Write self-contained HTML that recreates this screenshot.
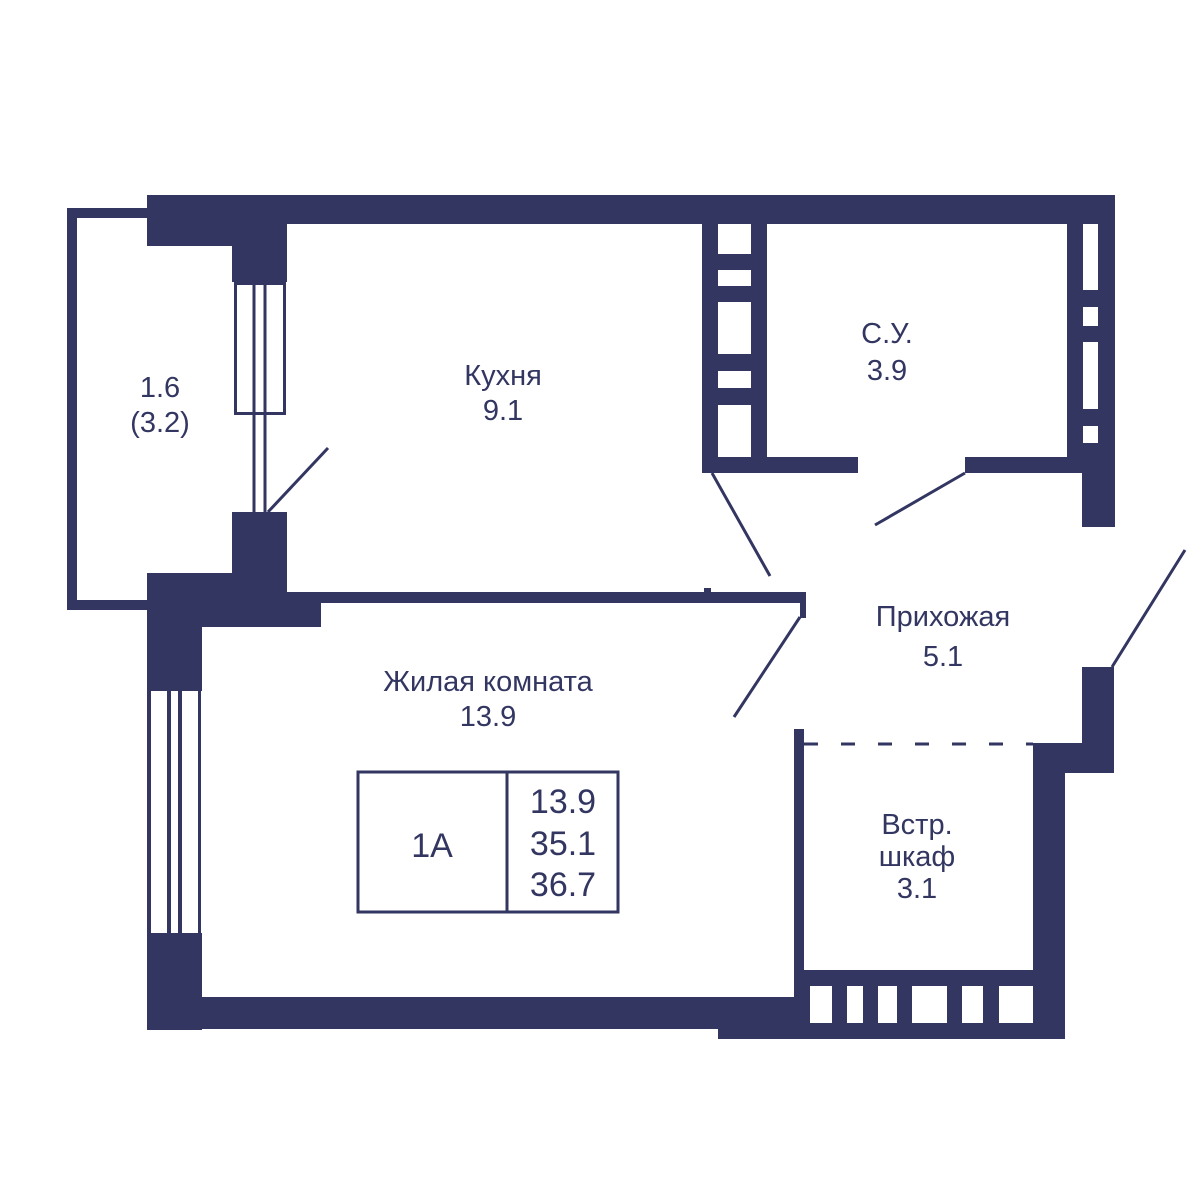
<!DOCTYPE html>
<html><head><meta charset="utf-8"><style>
html,body{margin:0;padding:0;background:#fff;}
svg{display:block;}
text{font-family:"Liberation Sans",sans-serif;fill:#323661;text-anchor:middle;}
</style></head><body>
<svg width="1200" height="1200" viewBox="0 0 1200 1200" xmlns="http://www.w3.org/2000/svg">
<g fill="#323661">
<rect x="67" y="208" width="82" height="10"/>
<rect x="67" y="208" width="10" height="402"/>
<rect x="67" y="600" width="82" height="10"/>
<rect x="147" y="195" width="968" height="29"/>
<rect x="147" y="224" width="86" height="22"/>
<rect x="232" y="224" width="55" height="58"/>
<rect x="232" y="512" width="55" height="90"/>
<rect x="147" y="573" width="140" height="54"/>
<rect x="147" y="603" width="174" height="24"/>
<rect x="286" y="592" width="519" height="11"/>
<rect x="704" y="588" width="7" height="6"/>
<rect x="800" y="592" width="6" height="26"/>
<rect x="147" y="603" width="55" height="88"/>
<rect x="147" y="933" width="55" height="97"/>
<rect x="147" y="997" width="660" height="32"/>
<rect x="718" y="997" width="347" height="42"/>
<rect x="794" y="729" width="10" height="270"/>
<rect x="794" y="970" width="271" height="69"/>
<rect x="1033" y="743" width="32" height="296"/>
<rect x="1033" y="743" width="81" height="30"/>
<rect x="1082" y="667" width="32" height="106"/>
<rect x="702" y="224" width="65" height="249"/>
<rect x="702" y="457" width="156" height="16"/>
<rect x="965" y="457" width="150" height="16"/>
<rect x="1067" y="224" width="48" height="249"/>
<rect x="1082" y="473" width="33" height="54"/>
</g>
<g fill="#fff">
<rect x="235" y="282" width="49" height="131"/>
<rect x="150" y="691" width="48" height="242"/>
<rect x="718" y="224" width="33" height="30"/>
<rect x="718" y="270" width="33" height="16"/>
<rect x="718" y="302" width="33" height="52"/>
<rect x="718" y="371" width="33" height="17"/>
<rect x="718" y="405" width="33" height="52"/>
<rect x="1083" y="224" width="15" height="66"/>
<rect x="1083" y="307" width="15" height="19"/>
<rect x="1083" y="342" width="15" height="67"/>
<rect x="1083" y="426" width="15" height="17"/>
<rect x="810" y="986" width="22" height="37"/>
<rect x="847" y="986" width="16" height="37"/>
<rect x="878" y="986" width="19" height="37"/>
<rect x="912" y="986" width="35" height="37"/>
<rect x="962" y="986" width="21" height="37"/>
<rect x="999" y="986" width="34" height="37"/>
</g>
<g stroke="#323661" fill="none">
<rect x="235.5" y="283.5" width="49" height="130" stroke-width="3"/>
<line x1="254" y1="282" x2="254" y2="512" stroke-width="3"/>
<line x1="265" y1="282" x2="265" y2="512" stroke-width="3"/>
<line x1="268" y1="512" x2="328" y2="448" stroke-width="3"/>
<line x1="149" y1="691" x2="149" y2="933" stroke-width="4"/>
<line x1="169" y1="691" x2="169" y2="933" stroke-width="4"/>
<line x1="180" y1="691" x2="180" y2="933" stroke-width="4"/>
<line x1="199.5" y1="691" x2="199.5" y2="933" stroke-width="3"/>
<line x1="712" y1="473" x2="770" y2="576" stroke-width="3"/>
<line x1="965" y1="473" x2="875" y2="525" stroke-width="3"/>
<line x1="800" y1="617" x2="734" y2="717" stroke-width="3"/>
<line x1="1112" y1="667" x2="1185" y2="550" stroke-width="3"/>
<line x1="804" y1="744" x2="1033" y2="744" stroke-width="3" stroke-dasharray="14,23"/>
<rect x="358" y="772" width="260" height="140" stroke-width="3"/>
<line x1="507" y1="772" x2="507" y2="912" stroke-width="3"/>
</g>
<g font-size="29">
<text x="160" y="397">1.6</text>
<text x="160" y="432">(3.2)</text>
<text x="503" y="385">Кухня</text>
<text x="503" y="420">9.1</text>
<text x="887" y="343">С.У.</text>
<text x="887" y="380">3.9</text>
<text x="943" y="626">Прихожая</text>
<text x="943" y="666">5.1</text>
<text x="488" y="691">Жилая комната</text>
<text x="488" y="726">13.9</text>
<text x="917" y="834">Встр.</text>
<text x="917" y="866">шкаф</text>
<text x="917" y="898">3.1</text>
</g>
<g font-size="34">
<text x="432" y="857">1А</text>
<text x="563" y="813">13.9</text>
<text x="563" y="855">35.1</text>
<text x="563" y="896">36.7</text>
</g>
</svg>
</body></html>
